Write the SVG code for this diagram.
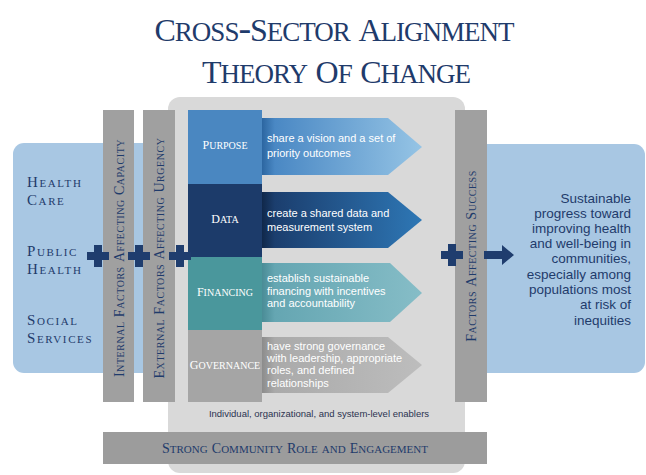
<svg xmlns="http://www.w3.org/2000/svg" width="646" height="475" viewBox="0 0 646 475">
<defs>
<style>
.serif{font-family:"Liberation Serif","Times New Roman",serif;font-variant:small-caps}
.sans{font-family:"Liberation Sans",Arial,sans-serif}
.navy{fill:#1f3b6b}
.col{fill:#a0a0a0}
.lbl{font-size:13.6px;fill:#ffffff;text-anchor:middle}
.lbl .c{font-size:12px}
.vt{font-size:14.5px;text-anchor:middle;letter-spacing:0.55px}
.vt .c{font-size:14px}
.atx{font-size:11px;fill:#ffffff}
.side{font-size:16px;letter-spacing:1.6px}
.side .c{font-size:15px}
.out{font-size:13.5px;text-anchor:end}
.ttl{font-size:38px;letter-spacing:-1px;text-anchor:middle}
.ttl .c{font-size:32px}
.bar{font-size:16.4px;text-anchor:middle}
.bar .c{font-size:14px}
</style>
<linearGradient id="gP" x1="0" x2="1" y1="0" y2="0"><stop offset="0" stop-color="#2c66a1"/><stop offset="0.08" stop-color="#4a88c4"/><stop offset="1" stop-color="#95c4e5"/></linearGradient>
<linearGradient id="gD" x1="0" x2="1" y1="0" y2="0"><stop offset="0" stop-color="#10284a"/><stop offset="0.08" stop-color="#1b3e6e"/><stop offset="1" stop-color="#2e77b5"/></linearGradient>
<linearGradient id="gF" x1="0" x2="1" y1="0" y2="0"><stop offset="0" stop-color="#4a8c96"/><stop offset="0.08" stop-color="#65a6b2"/><stop offset="1" stop-color="#86bdc7"/></linearGradient>
<linearGradient id="gG" x1="0" x2="1" y1="0" y2="0"><stop offset="0" stop-color="#8c8c8c"/><stop offset="0.08" stop-color="#aaaaaa"/><stop offset="1" stop-color="#bdbdbd"/></linearGradient>
<path id="plus" d="M-4,-11 h8 v7 h7 v8 h-7 v7 h-8 v-7 h-7 v-8 h7 z" fill="#1f3d6e"/>
</defs>
<rect width="646" height="475" fill="#ffffff"/>

<g id="title" class="serif navy">
<text class="ttl" x="334" y="41"><tspan class="c">C</tspan>ross-<tspan class="c">S</tspan>ector <tspan class="c">A</tspan>lignment</text>
<text class="ttl" x="336" y="83"><tspan class="c">T</tspan>heory <tspan class="c">O</tspan>f <tspan class="c">C</tspan>hange</text>
</g>

<g id="sectors">
<rect x="13" y="143" width="200" height="230" rx="11" fill="#a8c7e3"/>
<text class="serif navy side"><tspan x="27" y="187"><tspan class="c">H</tspan>ealth</tspan><tspan x="27" y="205"><tspan class="c">C</tspan>are</tspan></text>
<text class="serif navy side"><tspan x="27" y="256"><tspan class="c">P</tspan>ublic</tspan><tspan x="27" y="274"><tspan class="c">H</tspan>ealth</tspan></text>
<text class="serif navy side"><tspan x="27" y="325"><tspan class="c">S</tspan>ocial</tspan><tspan x="27" y="343"><tspan class="c">S</tspan>ervices</tspan></text>
</g>

<g id="outcome">
<rect x="440" y="144" width="205" height="229" rx="11" fill="#a8c7e3"/>
<g class="sans navy out">
<text x="631" y="203">Sustainable</text>
<text x="631" y="218">progress toward</text>
<text x="631" y="233">improving health</text>
<text x="631" y="248">and well-being in</text>
<text x="631" y="263">communities,</text>
<text x="631" y="279">especially among</text>
<text x="631" y="294">populations most</text>
<text x="631" y="309">at risk of</text>
<text x="631" y="325">inequities</text>
</g>
</g>

<g id="enablers">
<rect x="168" y="97" width="297" height="376" rx="12" fill="#d9d9d9"/>
<text class="sans" x="319" y="417" font-size="9.5" fill="#2b3350" text-anchor="middle">Individual, organizational, and system-level enablers</text>
</g>

<g id="internal-factors">
<rect class="col" x="103" y="110" width="31" height="292"/>
<text class="serif navy vt" transform="translate(124,258) rotate(-90)"><tspan class="c">I</tspan>nternal <tspan class="c">F</tspan>actors <tspan class="c">A</tspan>ffecting <tspan class="c">C</tspan>apacity</text>
</g>

<g id="external-factors">
<rect class="col" x="143" y="110" width="32" height="292"/>
<text class="serif navy vt" transform="translate(164,258) rotate(-90)"><tspan class="c">E</tspan>xternal <tspan class="c">F</tspan>actors <tspan class="c">A</tspan>ffecting <tspan class="c">U</tspan>rgency</text>
</g>

<g id="success-factors">
<rect class="col" x="455" y="110" width="32" height="292"/>
<text class="serif navy vt" transform="translate(476,256) rotate(-90)"><tspan class="c">F</tspan>actors <tspan class="c">A</tspan>ffecting <tspan class="c">S</tspan>uccess</text>
</g>

<g id="community">
<rect x="103" y="432" width="384" height="32" fill="#9c9c9c"/>
<text class="serif navy bar" x="295" y="453"><tspan class="c">S</tspan>trong <tspan class="c">C</tspan>ommunity <tspan class="c">R</tspan>ole and <tspan class="c">E</tspan>ngagement</text>
</g>

<g id="purpose">
<path d="M262,118 H388 L422,147 L388,175 H262 Z" fill="url(#gP)"/>
<rect x="188" y="110" width="74" height="74" fill="#4a87c1"/>
<text class="serif lbl" x="225" y="149"><tspan class="c">P</tspan>urpose</text>
<text class="sans atx" x="267" y="142">share a vision and a set of</text>
<text class="sans atx" x="267" y="157">priority outcomes</text>
</g>

<g id="data">
<path d="M262,192 H388 L422,220 L388,248 H262 Z" fill="url(#gD)"/>
<rect x="188" y="184" width="74" height="73" fill="#1c3b6a"/>
<text class="serif lbl" x="225" y="223"><tspan class="c">D</tspan>ata</text>
<text class="sans atx" x="267" y="217">create a shared data and</text>
<text class="sans atx" x="267" y="231">measurement system</text>
</g>

<g id="financing">
<path d="M262,263 H390 L422,293 L390,322 H262 Z" fill="url(#gF)"/>
<rect x="188" y="257" width="74" height="73" fill="#4a979c"/>
<text class="serif lbl" x="225" y="296"><tspan class="c">F</tspan>inancing</text>
<text class="sans atx" x="267" y="282">establish sustainable</text>
<text class="sans atx" x="267" y="295">financing with incentives</text>
<text class="sans atx" x="267" y="307">and accountability</text>
</g>

<g id="governance">
<path d="M262,337 H388 L422,365 L388,393 H262 Z" fill="url(#gG)"/>
<rect x="188" y="330" width="74" height="72" fill="#a5a5a5"/>
<text class="serif lbl" x="225" y="369"><tspan class="c">G</tspan>overnance</text>
<text class="sans atx" x="267" y="350">have strong governance</text>
<text class="sans atx" x="267" y="362">with leadership, appropriate</text>
<text class="sans atx" x="267" y="374">roles, and defined</text>
<text class="sans atx" x="267" y="387">relationships</text>
</g>

<g id="connectors">
<use href="#plus" x="98" y="256"/>
<use href="#plus" x="139" y="256"/>
<use href="#plus" x="180" y="256"/>
<use href="#plus" x="452" y="255"/>
<path d="M484,251 H502 V245 L514,255 L502,265 V259 H484 Z" fill="#1f3d6e"/>
</g>
</svg>
